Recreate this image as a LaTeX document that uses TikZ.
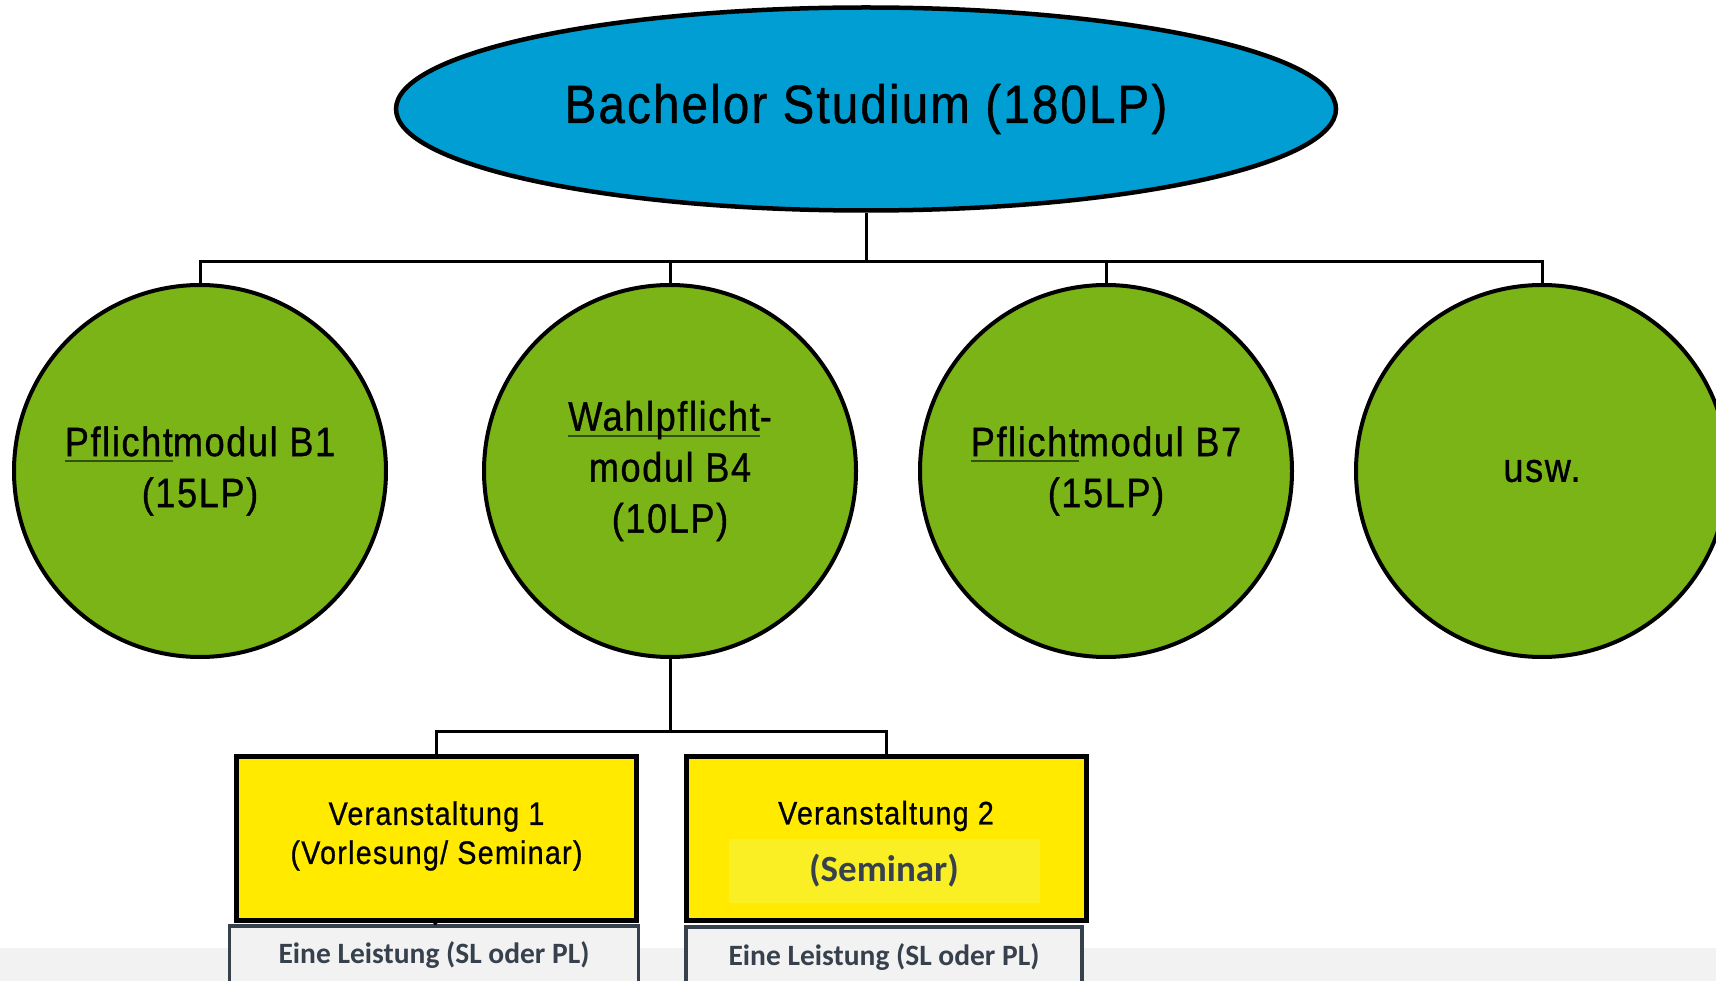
\documentclass[tikz,border=0pt]{standalone}
\usepackage{fontspec}
\setmainfont{Liberation Sans}[FakeStretch=0.88, LetterSpace=4, FakeBold=0.8]
\newfontfamily\carl{Carlito}
\usetikzlibrary{shapes.geometric}
\definecolor{topblue}{RGB}{0,158,211}
\definecolor{modgreen}{RGB}{122,180,23}
\definecolor{lvyellow}{RGB}{255,234,0}
\definecolor{hlyellow}{RGB}{250,238,36}
\definecolor{slate}{RGB}{55,65,77}
\definecolor{bandgrey}{RGB}{242,242,242}
\definecolor{ulgreen}{RGB}{50,80,20}
\newcommand\pul[1]{\setbox0\hbox{#1}\rlap{\color{ulgreen}\rule[-6pt]{\wd0}{1.8pt}}\box0}
\tikzset{
  conn/.style={line width=3pt, line join=miter},
  modcircle/.style={circle, draw=black, line width=4pt, fill=modgreen, minimum size=372pt, inner sep=0pt, align=center, font=\fontsize{41}{51}\selectfont},
  lvbox/.style={rectangle, draw=black, line width=5pt, fill=lvyellow, minimum width=400pt, minimum height=164pt, inner sep=0pt},
  lbox/.style={rectangle, draw=slate, line width=3.5pt, fill=bandgrey, minimum width=409pt, minimum height=80pt, inner sep=0pt},
  ltext/.style={font=\carl\bfseries\fontsize{29.5}{34}\selectfont, text=slate},
}
\begin{document}
\begin{tikzpicture}[x=1pt,y=-1pt]
\useasboundingbox (0,0) rectangle (1716,981);
\clip (0,0) rectangle (1716,981);
% bottom band
\fill[bandgrey] (0,948) rectangle (1716,981);

\node[ellipse, draw=black, line width=4.5pt, fill=topblue, minimum width=940pt, minimum height=203pt, inner sep=0pt, font=\fontsize{54}{60}\selectfont] (top) at (866,109) {Bachelor Studium (180LP)};

\node[modcircle] (c1) at (200,471) {\pul{Pflicht}modul B1\\(15LP)};
\node[modcircle] (c2) at (670,471) {\pul{Wahlpflicht}-\\modul B4\\(10LP)};
\node[modcircle] (c3) at (1106,471) {\pul{Pflicht}modul B7\\(15LP)};
\node[modcircle] (c4) at (1542,471) {usw.};

\coordinate (bar) at (866,262);
\draw[conn] (top.south) -- (bar);
\draw[conn] (c1.north) -- (c1.north |- bar) -- (c4.north |- bar) -- (c4.north);
\draw[conn] (c2.north) -- (c2.north |- bar);
\draw[conn] (c3.north) -- (c3.north |- bar);

\node[lvbox] (v1) at (436.5,838) {};
\node[lvbox] (v2) at (886,838) {};
\node[fill=hlyellow, minimum width=311pt, minimum height=64pt, inner sep=0pt] (hl) at (884,871) {};
\node[align=center, font=\fontsize{32.5}{39}\selectfont] (t1) at (436.5,836) {Veranstaltung 1\\(Vorlesung/ Seminar)};
\node[font=\fontsize{32.5}{39}\selectfont] (t2) at (886,816) {Veranstaltung 2};
\node[font=\carl\bfseries\fontsize{37}{44}\selectfont, text=slate] (t3) at (hl) {(Seminar)};

\coordinate (bar2) at (670,731);
\draw[conn] (c2.south) -- (bar2);
\draw[conn] (v1.north) -- (v1.north |- bar2) -- (v2.north |- bar2) -- (v2.north);

\node[lbox] (l1) at (434,966) {};
\node[lbox, minimum width=396pt] (l2) at (884,967) {};
\node[ltext] at (434,955) {Eine Leistung (SL oder PL)};
\node[ltext] at (884,957) {Eine Leistung (SL oder PL)};
\draw[conn] (v1.south) -- (l1.north);
\end{tikzpicture}
\end{document}
